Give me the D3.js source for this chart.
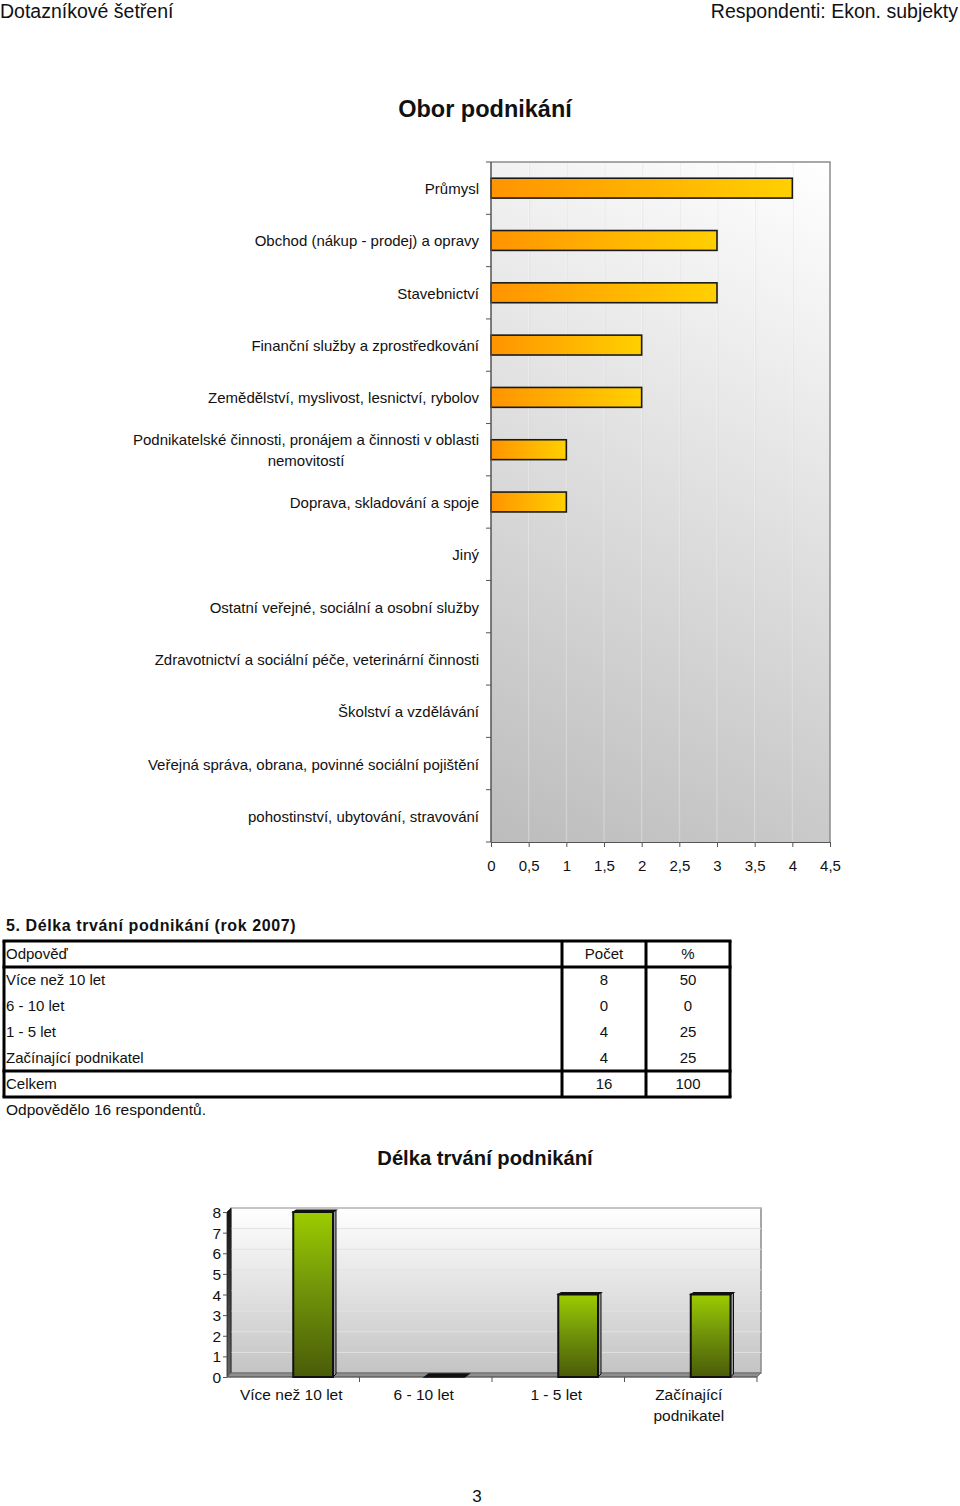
<!DOCTYPE html>
<html><head><meta charset="utf-8">
<script src="https://cdn.jsdelivr.net/npm/d3@7"></script>
<style>
html,body{margin:0;padding:0;background:#fff;}
svg{display:block;font-family:"Liberation Sans",Arial,sans-serif;}
</style></head>
<body>
<svg id="page" width="960" height="1506"></svg>
<script>
// ---------- DATA ----------
const headerLeft = "Dotazníkové šetření";
const headerRight = "Respondenti: Ekon. subjekty";
const chart1Title = "Obor podnikání";
const industries = [
  "Průmysl",
  "Obchod (nákup - prodej) a opravy",
  "Stavebnictví",
  "Finanční služby a zprostředkování",
  "Zemědělství, myslivost, lesnictví, rybolov",
  "Podnikatelské činnosti, pronájem a činnosti v oblasti nemovitostí",
  "Doprava, skladování a spoje",
  "Jiný",
  "Ostatní veřejné, sociální a osobní služby",
  "Zdravotnictví a sociální péče, veterinární činnosti",
  "Školství a vzdělávání",
  "Veřejná správa, obrana, povinné sociální pojištění",
  "pohostinství, ubytování, stravování"
];
const industryCounts = [4, 3, 3, 2, 2, 1, 1, 0, 0, 0, 0, 0, 0];
const xTickValues = [0, 0.5, 1, 1.5, 2, 2.5, 3, 3.5, 4, 4.5];

const tableTitle = "5. Délka trvání podnikání (rok 2007)";
const tableHeader = ["Odpověď", "Počet", "%"];
const durationCats = ["Více než 10 let", "6 - 10 let", "1 - 5 let", "Začínající podnikatel"];
const durationCounts = [8, 0, 4, 4];
const durationPct = [50, 0, 25, 25];
const totalLabel = "Celkem";
const totalCount = 16;
const totalPct = 100;
const tableNote = "Odpovědělo 16 respondentů.";

const chart2Title = "Délka trvání podnikání";
const chart2Labels = [["Více než 10 let"], ["6 - 10 let"], ["1 - 5 let"], ["Začínající", "podnikatel"]];
const yTickValues = [0, 1, 2, 3, 4, 5, 6, 7, 8];
const pageNumber = "3";

// ---------- SETUP ----------
const svg = d3.select("#page");
const defs = svg.append("defs");

// header
svg.append("text").attr("x", 0).attr("y", 18).attr("font-size", 19.5).attr("fill", "#111").text(headerLeft);
svg.append("text").attr("x", 958).attr("y", 18).attr("font-size", 19.5).attr("fill", "#111").attr("text-anchor", "end").text(headerRight);

// ---------- CHART 1 ----------
svg.append("text").attr("x", 485).attr("y", 117).attr("text-anchor", "middle")
  .attr("font-size", 23.5).attr("font-weight", "bold").attr("fill", "#111").text(chart1Title);

const c1 = {left: 491, right: 830, top: 162, bottom: 842};
const x1 = d3.scaleLinear().domain([0, 4.5]).range([c1.left, c1.right]);
const y1 = d3.scaleBand().domain(industries).range([c1.top, c1.bottom]).paddingInner(0.62).paddingOuter(0.31);
const y1b = d3.scaleBand().domain(industries).range([c1.top, c1.bottom]);

const bg1 = defs.append("linearGradient").attr("id", "bg1").attr("gradientUnits", "userSpaceOnUse")
  .attr("x1", c1.left).attr("y1", c1.bottom).attr("x2", c1.right).attr("y2", c1.top);
bg1.append("stop").attr("offset", 0).attr("stop-color", "#bcbcbc");
bg1.append("stop").attr("offset", 1).attr("stop-color", "#ffffff");

const barG1 = defs.append("linearGradient").attr("id", "bar1").attr("x1", 0).attr("y1", 0).attr("x2", 1).attr("y2", 0);
barG1.append("stop").attr("offset", 0).attr("stop-color", "#ff9400");
barG1.append("stop").attr("offset", 1).attr("stop-color", "#ffd000");

svg.append("rect").attr("x", c1.left).attr("y", c1.top).attr("width", c1.right - c1.left).attr("height", c1.bottom - c1.top)
  .attr("fill", "url(#bg1)");

// vertical gridlines (subtle)
svg.append("g").selectAll("line").data(xTickValues.slice(1, -1)).join("line")
  .attr("x1", d => x1(d)).attr("x2", d => x1(d)).attr("y1", c1.top).attr("y2", c1.bottom)
  .attr("stroke", "#ffffff").attr("stroke-opacity", 0.35).attr("stroke-width", 1);
svg.append("g").selectAll("line").data(xTickValues.slice(1, -1)).join("line")
  .attr("x1", d => x1(d) + 1).attr("x2", d => x1(d) + 1).attr("y1", c1.top).attr("y2", c1.bottom)
  .attr("stroke", "#cfcfcf").attr("stroke-opacity", 0.25).attr("stroke-width", 1);

// frame top/right
svg.append("path").attr("d", `M${c1.left},${c1.top}H${c1.right}V${c1.bottom}`)
  .attr("fill", "none").attr("stroke", "#8c8c8c").attr("stroke-width", 1.5);

// bars
svg.append("g").selectAll("rect").data(industries.map((d, i) => ({name: d, v: industryCounts[i]})).filter(d => d.v > 0))
  .join("rect")
  .attr("x", x1(0)).attr("y", d => y1(d.name))
  .attr("width", d => x1(d.v) - x1(0)).attr("height", y1.bandwidth())
  .attr("fill", "url(#bar1)").attr("stroke", "#1a1a1a").attr("stroke-width", 1.6);

// x axis
const xAxis1 = d3.axisBottom(x1).tickValues(xTickValues).tickSize(5).tickSizeOuter(0)
  .tickFormat(d => String(d).replace(".", ","));
const gx1 = svg.append("g").attr("transform", `translate(0,${c1.bottom})`).call(xAxis1);
gx1.select(".domain").attr("stroke", "#555").attr("stroke-width", 1.2);
gx1.selectAll(".tick line").attr("stroke", "#555");
gx1.selectAll(".tick text").attr("font-size", 15).attr("font-family", "Liberation Sans, Arial, sans-serif")
  .attr("fill", "#111").attr("y", 18);

// y axis line + ticks at band boundaries
svg.append("line").attr("x1", c1.left).attr("x2", c1.left).attr("y1", c1.top).attr("y2", c1.bottom)
  .attr("stroke", "#555").attr("stroke-width", 1.5);
svg.append("g").selectAll("line").data(industries).join("line")
  .attr("x1", c1.left - 5).attr("x2", c1.left)
  .attr("y1", d => y1b(d)).attr("y2", d => y1b(d))
  .attr("stroke", "#555");
svg.append("line").attr("x1", c1.left - 5).attr("x2", c1.left).attr("y1", c1.bottom).attr("y2", c1.bottom).attr("stroke", "#555");

// category labels (wrapped)
const labelG = svg.append("g").attr("font-size", 15).attr("fill", "#111");
const maxLabelW = 360;
industries.forEach(name => {
  const words = name.split(" ");
  const probe = labelG.append("text").attr("visibility", "hidden");
  const lines = [];
  let cur = "";
  words.forEach(w => {
    const test = cur ? cur + " " + w : w;
    probe.text(test);
    if (probe.node().getComputedTextLength() > maxLabelW && cur) { lines.push(cur); cur = w; }
    else cur = test;
  });
  lines.push(cur);
  let maxW = 0;
  lines.forEach(l => { probe.text(l); maxW = Math.max(maxW, probe.node().getComputedTextLength()); });
  probe.remove();
  const cy = y1b(name) + y1b.bandwidth() / 2;
  const lh = 21;
  const t = labelG.append("text").attr("text-anchor", "middle").attr("x", 479 - maxW / 2);
  lines.forEach((l, i) => {
    t.append("tspan").attr("x", 479 - maxW / 2)
      .attr("y", cy + 6 + (i - (lines.length - 1) / 2) * lh).text(l);
  });
});

// ---------- TABLE ----------
svg.append("text").attr("x", 6).attr("y", 931).attr("font-size", 16).attr("letter-spacing", 0.6).attr("font-weight", "bold")
  .attr("fill", "#111").text(tableTitle);

const tb = {left: 4, right: 730, col1: 562, col2: 646, top: 941, rowH: 26};
const rows = [tableHeader].concat(durationCats.map((c, i) => [c, durationCounts[i], durationPct[i]]))
  .concat([[totalLabel, totalCount, totalPct]]);
const tg = svg.append("g").attr("font-size", 15).attr("fill", "#111");
rows.forEach((r, i) => {
  const cy = tb.top + tb.rowH * (i + 0.5) + 5;
  tg.append("text").attr("x", 6).attr("y", cy).text(r[0]);
  tg.append("text").attr("x", (tb.col1 + tb.col2) / 2).attr("y", cy).attr("text-anchor", "middle").text(r[1]);
  tg.append("text").attr("x", (tb.col2 + tb.right) / 2).attr("y", cy).attr("text-anchor", "middle").text(r[2]);
});
const tBottom = tb.top + tb.rowH * rows.length;
const lineYs = [tb.top, tb.top + tb.rowH, tb.top + tb.rowH * (rows.length - 1), tBottom];
const lg = svg.append("g").attr("stroke", "#000").attr("stroke-width", 3);
lineYs.forEach(y => lg.append("line").attr("x1", tb.left - 1.5).attr("x2", tb.right + 1.5).attr("y1", y).attr("y2", y));
[tb.left, tb.col1, tb.col2, tb.right].forEach(x => lg.append("line").attr("x1", x).attr("x2", x).attr("y1", tb.top).attr("y2", tBottom));
svg.append("text").attr("x", 6).attr("y", tBottom + 18).attr("font-size", 15.5).attr("fill", "#111").text(tableNote);

// ---------- CHART 2 ----------
svg.append("text").attr("x", 485).attr("y", 1165).attr("text-anchor", "middle")
  .attr("font-size", 20.2).attr("font-weight", "bold").attr("fill", "#111").text(chart2Title);

const d = 4; // 3D depth offset
const c2 = {left: 227, right: 757, top: 1212, bottom: 1377};
const x2 = d3.scaleBand().domain(durationCats).range([c2.left, c2.right]);
const y2 = d3.scaleLinear().domain([0, 8]).range([c2.bottom, c2.top]);

const bg2 = defs.append("linearGradient").attr("id", "bg2").attr("x1", 0).attr("y1", 0).attr("x2", 0).attr("y2", 1);
bg2.append("stop").attr("offset", 0).attr("stop-color", "#ffffff");
bg2.append("stop").attr("offset", 1).attr("stop-color", "#c4c4c4");
const wallG = defs.append("linearGradient").attr("id", "wall").attr("x1", 0).attr("y1", 0).attr("x2", 0).attr("y2", 1);
wallG.append("stop").attr("offset", 0).attr("stop-color", "#111");
wallG.append("stop").attr("offset", 1).attr("stop-color", "#666");
const barG2 = defs.append("linearGradient").attr("id", "bar2").attr("x1", 0).attr("y1", 0).attr("x2", 0).attr("y2", 1);
barG2.append("stop").attr("offset", 0).attr("stop-color", "#9ccc00");
barG2.append("stop").attr("offset", 0.45).attr("stop-color", "#72960a");
barG2.append("stop").attr("offset", 1).attr("stop-color", "#4a5c08");

// back wall
svg.append("rect").attr("x", c2.left + d).attr("y", c2.top - d).attr("width", c2.right - c2.left).attr("height", c2.bottom - c2.top)
  .attr("fill", "url(#bg2)").attr("stroke", "#8a8a8a").attr("stroke-width", 1.5);
// gridlines on back wall
svg.append("g").selectAll("line").data(yTickValues.slice(1)).join("line")
  .attr("x1", c2.left + d).attr("x2", c2.right + d)
  .attr("y1", v => y2(v) - d).attr("y2", v => y2(v) - d)
  .attr("stroke", "#e2e2e2").attr("stroke-width", 1);
// left wall
svg.append("polygon").attr("points", `${c2.left},${c2.top} ${c2.left + d},${c2.top - d} ${c2.left + d},${c2.bottom - d} ${c2.left},${c2.bottom}`)
  .attr("fill", "url(#wall)").attr("stroke", "#222").attr("stroke-width", 0.8);
// floor
svg.append("polygon").attr("points", `${c2.left},${c2.bottom} ${c2.left + d},${c2.bottom - d} ${c2.right + d},${c2.bottom - d} ${c2.right},${c2.bottom}`)
  .attr("fill", "#8e8e8e").attr("stroke", "#666").attr("stroke-width", 0.8);
svg.append("line").attr("x1", c2.left).attr("x2", c2.right).attr("y1", c2.bottom).attr("y2", c2.bottom)
  .attr("stroke", "#555").attr("stroke-width", 1);

// bars
const bw = x2.bandwidth() * 0.3;
durationCats.forEach((cat, i) => {
  const v = durationCounts[i];
  const bx = x2(cat) + x2.bandwidth() * 0.5;
  const top = y2(v), bot = y2(0);
  if (v > 0) {
    svg.append("polygon")
      .attr("points", `${bx + bw},${top} ${bx + bw + 3},${top - 2} ${bx + bw + 3},${bot - 3} ${bx + bw},${bot}`)
      .attr("fill", "#9a9a9a").attr("stroke", "#111").attr("stroke-width", 1);
    svg.append("polygon")
      .attr("points", `${bx},${top} ${bx + 3},${top - 2} ${bx + bw + 3},${top - 2} ${bx + bw},${top}`)
      .attr("fill", "#111").attr("stroke", "#111").attr("stroke-width", 1.2);
    svg.append("rect").attr("x", bx).attr("y", top).attr("width", bw).attr("height", bot - top)
      .attr("fill", "url(#bar2)").attr("stroke", "#111").attr("stroke-width", 2);
  } else {
    svg.append("polygon")
      .attr("points", `${bx - 1},${bot} ${bx + 3},${bot - 3} ${bx + bw + 3},${bot - 3} ${bx + bw - 1},${bot}`)
      .attr("fill", "#111").attr("stroke", "#111").attr("stroke-width", 1.5);
  }
});

// y axis
const yAxis2 = d3.axisLeft(y2).tickValues(yTickValues).tickSize(4).tickSizeOuter(0);
const gy2 = svg.append("g").attr("transform", `translate(${c2.left},0)`).call(yAxis2);
gy2.select(".domain").remove();
gy2.selectAll(".tick line").attr("stroke", "#555");
gy2.selectAll(".tick text").attr("font-size", 15.5).attr("font-family", "Liberation Sans, Arial, sans-serif")
  .attr("fill", "#111").attr("x", -6).attr("dy", "0.36em");

// x ticks at band boundaries
svg.append("g").selectAll("line").data(durationCats.slice(1).map(c => x2(c)).concat([c2.right])).join("line")
  .attr("x1", v => v).attr("x2", v => v).attr("y1", c2.bottom).attr("y2", c2.bottom + 5)
  .attr("stroke", "#555");

// x labels
const xl = svg.append("g").attr("font-size", 15.5).attr("fill", "#111").attr("text-anchor", "middle");
durationCats.forEach((cat, i) => {
  const t = xl.append("text");
  chart2Labels[i].forEach((l, j) => {
    t.append("tspan").attr("x", x2(cat) + x2.bandwidth() / 2 - 2).attr("y", 1400 + j * 21).text(l);
  });
});

// page number
svg.append("text").attr("x", 477).attr("y", 1502).attr("text-anchor", "middle").attr("font-size", 17).attr("fill", "#111").text(pageNumber);
</script>
</body></html>
